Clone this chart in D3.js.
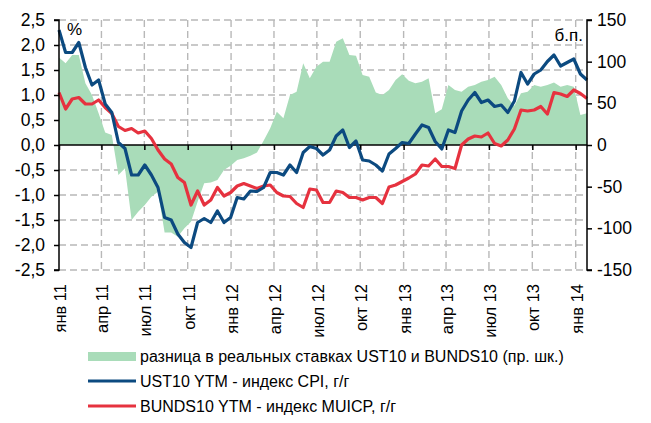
<!DOCTYPE html>
<html><head><meta charset="utf-8">
<script src="https://cdn.jsdelivr.net/npm/d3@7"></script>
<style>
html,body{margin:0;padding:0;background:#fff;}
text{font-family:"Liberation Sans",Arial,sans-serif;fill:#000;}
</style></head>
<body><svg id="c" width="651" height="423"></svg>
<script>
const dates = ["2011-01-01","2011-01-15","2011-01-29","2011-02-12","2011-02-26","2011-03-12","2011-03-26","2011-04-09","2011-04-23","2011-05-07",
"2011-05-21","2011-06-04","2011-06-18","2011-07-02","2011-07-16","2011-07-30","2011-08-13","2011-08-27","2011-09-10","2011-09-24",
"2011-10-08","2011-10-22","2011-11-05","2011-11-19","2011-12-03","2011-12-17","2011-12-31","2012-01-14","2012-01-28","2012-02-11",
"2012-02-25","2012-03-10","2012-03-24","2012-04-07","2012-04-21","2012-05-05","2012-05-19","2012-06-02","2012-06-16","2012-06-30",
"2012-07-14","2012-07-28","2012-08-11","2012-08-25","2012-09-08","2012-09-22","2012-10-06","2012-10-20","2012-11-03","2012-11-17",
"2012-12-01","2012-12-15","2012-12-29","2013-01-12","2013-01-26","2013-02-09","2013-02-23","2013-03-09","2013-03-23","2013-04-06",
"2013-04-20","2013-05-04","2013-05-18","2013-06-01","2013-06-15","2013-06-29","2013-07-13","2013-07-27","2013-08-10","2013-08-24",
"2013-09-07","2013-09-21","2013-10-05","2013-10-19","2013-11-02","2013-11-16","2013-11-30","2013-12-14","2013-12-28","2014-01-11",
"2014-01-25"];

// UST10 YTM - CPI y/y, %
const ust = [2.3,1.85,1.85,2.05,1.55,1.2,1.3,0.82,0.65,0.05,
-0.07,-0.6,-0.6,-0.4,-0.6,-0.85,-1.45,-1.5,-1.78,-1.95,
-2.05,-1.55,-1.47,-1.55,-1.32,-1.55,-1.45,-1.05,-1.08,-0.92,
-0.93,-0.85,-0.55,-0.55,-0.6,-0.4,-0.55,-0.15,-0.03,-0.07,
-0.2,-0.1,0.18,0.3,-0.05,0.08,-0.3,-0.32,-0.4,-0.52,
-0.18,-0.07,0.05,0.03,0.22,0.4,0.35,0.07,-0.08,0.3,
0.25,0.68,0.9,1.05,0.85,0.9,0.77,0.8,0.65,0.88,
1.45,1.22,1.42,1.5,1.67,1.8,1.58,1.65,1.72,1.42,
1.3];

// BUNDS10 YTM - MUICP y/y, %
const bund = [1.05,0.72,0.92,0.95,0.82,0.82,0.9,0.75,0.63,0.37,
0.29,0.33,0.24,0.28,0.13,-0.1,-0.28,-0.38,-0.65,-0.75,
-1.2,-0.92,-1.2,-1.1,-0.85,-1.02,-0.95,-0.82,-0.77,-0.82,
-0.87,-0.82,-0.8,-0.95,-1.02,-1.03,-1.17,-1.25,-0.88,-0.9,
-1.15,-1.15,-0.92,-0.95,-1.05,-1.05,-1.1,-1.05,-1.05,-1.17,
-0.84,-0.8,-0.73,-0.66,-0.58,-0.4,-0.42,-0.28,-0.43,-0.43,
-0.47,0.0,0.12,0.18,0.16,0.24,0.03,-0.02,0.1,0.32,
0.7,0.68,0.7,0.77,0.62,1.05,1.02,0.97,1.1,1.03,
0.93];

// real-rate spread UST10 vs BUNDS10, bp (right axis)
const spread = [105,98,108,108,74,60,38,15,12,-36,
-28,-90,-80,-72,-62,-56,-105,-105,-110,-100,
-92,-68,-46,-45,-42,-30,-25,-18,-16,-13,
-9,5,20,40,32,60,64,98,80,94,
100,100,124,128,108,107,84,82,63,60,
66,78,85,77,74,76,80,38,43,72,
66,64,70,72,76,78,82,72,56,47,
62,64,72,70,72,75,70,72,70,36,
38];

const leftTicks = [2.5,2.0,1.5,1.0,0.5,0.0,-0.5,-1.0,-1.5,-2.0,-2.5];
const rightTicks = [150,100,50,0,-50,-100,-150];
const xTickLabels = ["янв 11","апр 11","июл 11","окт 11","янв 12","апр 12","июл 12","окт 12","янв 13","апр 13","июл 13","окт 13","янв 14"];
const xTickDates = ["2011-01-01","2011-04-01","2011-07-01","2011-10-01","2012-01-01","2012-04-01","2012-07-01","2012-10-01","2013-01-01","2013-04-01","2013-07-01","2013-10-01","2014-01-01"];
const legendLabels = ["разница в реальных ставках UST10 и BUNDS10 (пр. шк.)","UST10 YTM - индекс CPI, г/г","BUNDS10 YTM - индекс MUICP, г/г"];

const COL_G = "#a9dcb9", COL_B = "#0c4a80", COL_R = "#e6323f";
const parse = d3.timeParse("%Y-%m-%d");
const D = dates.map(parse);
const svg = d3.select("#c");
const L = 59, R = 587, T = 20, B = 270;
const x = d3.scaleTime().domain([D[0], D[D.length-1]]).range([L, R]);
const yL = d3.scaleLinear().domain([-2.5, 2.5]).range([B, T]);
const yR = d3.scaleLinear().domain([-150, 150]).range([B, T]);
const fmt = v => d3.format(".1f")(v).replace(".", ",").replace("\u2212","-");

// grid
const grid = svg.append("g").attr("stroke", "#b8b8b8").attr("stroke-width", 1.4).attr("stroke-dasharray", "7,4");
leftTicks.filter(v => v !== 0).forEach(v => grid.append("line").attr("x1", L).attr("x2", R).attr("y1", yL(v)).attr("y2", yL(v)));
xTickDates.slice(1).forEach(s => { const xx = x(parse(s)); grid.append("line").attr("x1", xx).attr("x2", xx).attr("y1", T).attr("y2", B); });

// spread area
svg.append("path").datum(spread)
  .attr("fill", COL_G)
  .attr("d", d3.area().x((d,i) => x(D[i])).y0(yR(0)).y1(d => yR(d)));

// zero line + x ticks
svg.append("line").attr("x1", L).attr("x2", R).attr("y1", yL(0)).attr("y2", yL(0)).attr("stroke", "#000").attr("stroke-width", 1.5);
const gx = svg.append("g").attr("transform", `translate(0,${yL(0)})`)
  .call(d3.axisBottom(x).tickValues(xTickDates.map(parse)).tickSize(5).tickFormat(""));
gx.select(".domain").remove();
gx.selectAll("line").attr("stroke", "#000").attr("stroke-width", 1.5);

// lines
const line = arr => d3.line().x((d,i) => x(D[i])).y(d => yL(d))(arr);
svg.append("path").attr("d", line(bund)).attr("fill", "none").attr("stroke", COL_R).attr("stroke-width", 3.2).attr("stroke-linejoin", "round");
svg.append("path").attr("d", line(ust)).attr("fill", "none").attr("stroke", COL_B).attr("stroke-width", 3.2).attr("stroke-linejoin", "round");

// left axis
const gl = svg.append("g").attr("transform", `translate(${L},0)`)
  .call(d3.axisLeft(yL).tickValues(leftTicks).tickSize(5).tickPadding(9).tickFormat(fmt));
gl.select(".domain").attr("stroke", "#000").attr("stroke-width", 1.5).attr("d", `M-5,${T}H0V${B}H-5`);
gl.selectAll("line").attr("stroke", "#000").attr("stroke-width", 1.5);
gl.selectAll("text").attr("font-size", 17.5).attr("font-family", "Liberation Sans, Arial, sans-serif");

// right axis
const gr = svg.append("g").attr("transform", `translate(${R},0)`)
  .call(d3.axisRight(yR).tickValues(rightTicks).tickSize(5).tickPadding(5).tickFormat(d => String(d)));
gr.select(".domain").attr("stroke", "#000").attr("stroke-width", 1.5).attr("d", `M5,${T}H0V${B}H5`);
gr.selectAll("line").attr("stroke", "#000").attr("stroke-width", 1.5);
gr.selectAll("text").attr("font-size", 17.5).attr("font-family", "Liberation Sans, Arial, sans-serif");

// x labels
xTickLabels.forEach((lab, i) => {
  const xx = x(parse(xTickDates[i]));
  svg.append("text").attr("transform", `translate(${xx + 7},284) rotate(-90)`)
    .attr("text-anchor", "end").attr("font-size", 16.5).text(lab);
});

// unit labels
svg.append("text").attr("x", 67).attr("y", 35).attr("font-size", 17).text("%");
svg.append("text").attr("x", 583).attr("y", 41).attr("text-anchor", "end").attr("font-size", 17).text("б.п.");

// legend
const lg = svg.append("g");
lg.append("rect").attr("x", 88).attr("y", 352).attr("width", 48).attr("height", 9).attr("fill", COL_G);
lg.append("line").attr("x1", 88).attr("x2", 136).attr("y1", 381).attr("y2", 381).attr("stroke", COL_B).attr("stroke-width", 3.2);
lg.append("line").attr("x1", 88).attr("x2", 136).attr("y1", 406).attr("y2", 406).attr("stroke", COL_R).attr("stroke-width", 3.2);
[362, 387, 412].forEach((yy, i) => lg.append("text").attr("x", 140).attr("y", yy).attr("font-size", 16).text(legendLabels[i]));
</script></body></html>
